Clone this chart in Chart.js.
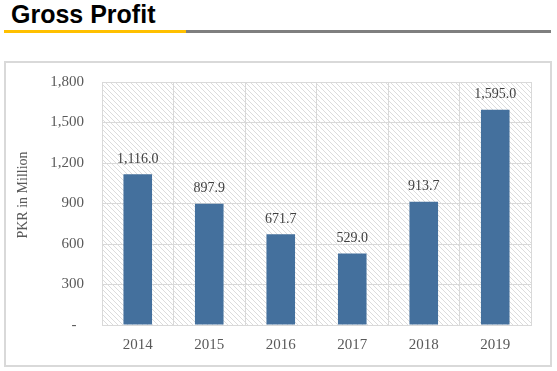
<!DOCTYPE html>
<html>
<head>
<meta charset="utf-8">
<script src="https://cdn.jsdelivr.net/npm/chart.js@4"></script>
<style>
  body { margin: 0; background: #fff; width: 557px; height: 371px; position: relative; overflow: hidden; }
  #title { position: absolute; left: 11px; top: 2px; font: bold 25px "Liberation Sans", Arial, sans-serif; line-height: 25px; color: #000; }
  #lineY { position: absolute; left: 4px; top: 30px; width: 182px; height: 3px; background: #FFC000; }
  #lineG { position: absolute; left: 186px; top: 30px; width: 365px; height: 3px; background: #7F7F7F; }
  #box { position: absolute; left: 4px; top: 61px; width: 548px; height: 306px; border: 2px solid #d9d9d9; box-sizing: border-box; }
  #wrap { position: absolute; left: 0; top: 0; width: 544px; height: 302px; }
</style>
</head>
<body>
<div id="title">Gross Profit</div>
<div id="lineY"></div>
<div id="lineG"></div>
<div id="box"><div id="wrap"><canvas id="chart" width="544" height="302"></canvas></div></div>
<script>
const years = ["2014", "2015", "2016", "2017", "2018", "2019"];
const grossProfit = [1116.0, 897.9, 671.7, 529.0, 913.7, 1595.0];
const yTicks = [0, 300, 600, 900, 1200, 1500, 1800];
const yTitle = "PKR in Million";

const serif = '"Liberation Serif", "Times New Roman", serif';

// hatch pattern for the plot background
function makeHatch() {
  const c = document.createElement("canvas");
  c.width = 5; c.height = 5;
  const g = c.getContext("2d");
  g.fillStyle = "#fff";
  g.fillRect(0, 0, 5, 5);
  g.strokeStyle = "#dcdcdc";
  g.lineWidth = 1;
  g.beginPath();
  g.moveTo(-1, -1); g.lineTo(6, 6);
  g.moveTo(-1, 4); g.lineTo(1, 6);
  g.moveTo(4, -1); g.lineTo(6, 1);
  g.stroke();
  return g.createPattern(c, "repeat");
}

const extras = {
  id: "extras",
  beforeDraw(chart) {
    const { ctx, chartArea: a } = chart;
    ctx.save();
    ctx.fillStyle = makeHatch();
    ctx.fillRect(a.left, a.top, a.right - a.left, a.bottom - a.top);
    ctx.restore();
  },
  afterDraw(chart) {
    const ctx = chart.ctx;
    ctx.save();
    // y title
    ctx.translate(17, 132);
    ctx.rotate(-Math.PI / 2);
    ctx.font = "14px " + serif;
    ctx.fillStyle = "#595959";
    ctx.textAlign = "center";
    ctx.textBaseline = "middle";
    ctx.fillText(yTitle, 0, 0);
    ctx.restore();
    // value labels
    ctx.save();
    ctx.font = "14px " + serif;
    ctx.fillStyle = "#404040";
    ctx.textAlign = "center";
    ctx.textBaseline = "middle";
    chart.getDatasetMeta(0).data.forEach((bar, i) => {
      const v = grossProfit[i].toLocaleString("en-US", { minimumFractionDigits: 1, maximumFractionDigits: 1 });
      ctx.fillText(v, bar.x, bar.y - 15);
    });
    ctx.restore();
  }
};

new Chart(document.getElementById("chart"), {
  type: "bar",
  data: {
    labels: years,
    datasets: [{
      data: grossProfit,
      backgroundColor: "#44709D",
      categoryPercentage: 1,
      barPercentage: 0.4
    }]
  },
  options: {
    responsive: false,
    animation: false,
    layout: { padding: { left: 0, top: 19, right: 19, bottom: 0 } },
    plugins: { legend: { display: false }, tooltip: { enabled: false } },
    scales: {
      x: {
        grid: { color: "#d9d9d9", drawTicks: false, offset: true },
        border: { color: "#d9d9d9" },
        ticks: { color: "#595959", font: { family: serif, size: 15 }, padding: 11 },
        afterFit(s) { s.height = 40; }
      },
      y: {
        min: 0, max: 1800,
        afterBuildTicks(s) { s.ticks = yTicks.map(v => ({ value: v })); },
        grid: { color: "#d9d9d9", drawTicks: false },
        border: { color: "#d9d9d9" },
        ticks: {
          color: "#595959",
          font: { family: serif, size: 15 },
          padding: 18,
          callback: v => v === 0 ? "-  " : v.toLocaleString("en-US")
        },
        // fixed axis width, and no extra room for the top/bottom tick labels
        afterFit(s) { s.width = 96; s.paddingTop = 0; s.paddingBottom = 0; }
      }
    }
  },
  plugins: [extras]
});
</script>
</body>
</html>
